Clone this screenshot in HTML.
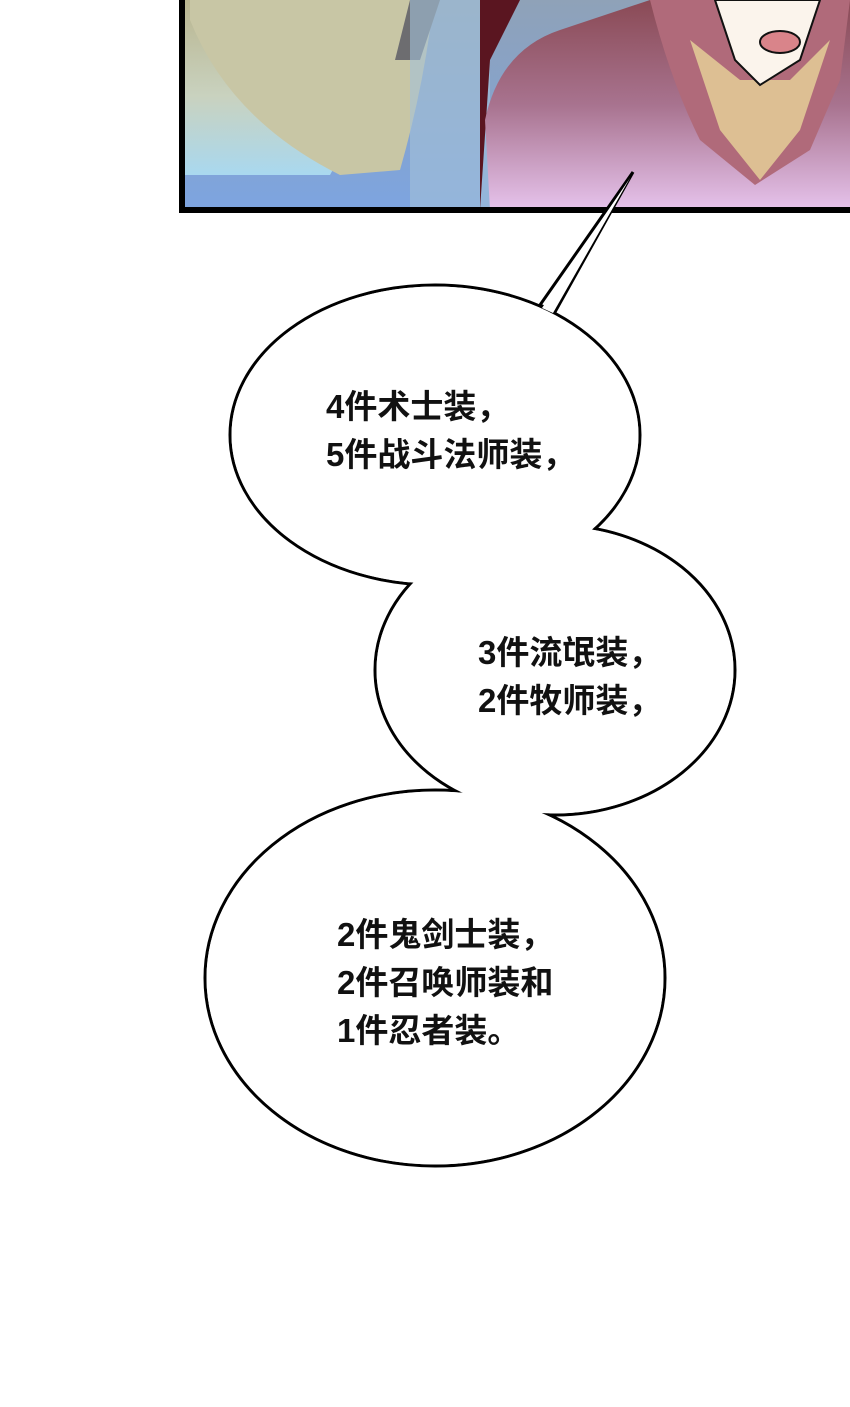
<!DOCTYPE html>
<html><head><meta charset="utf-8">
<style>
html,body{margin:0;padding:0;background:#fff;}
body{width:850px;height:1407px;position:relative;overflow:hidden;}
svg{position:absolute;left:0;top:0;}
.t{position:absolute;font-family:"Liberation Sans","Noto Sans CJK SC",sans-serif;font-size:33px;font-weight:bold;color:#111;line-height:48px;white-space:nowrap;}
</style></head><body>
<svg width="850" height="1407" viewBox="0 0 850 1407">
<defs>
<linearGradient id="gl" x1="0" y1="0" x2="0" y2="1">
<stop offset="0" stop-color="#b9b58f"/><stop offset="0.55" stop-color="#c9d2bf"/><stop offset="1" stop-color="#a9d8ef"/>
</linearGradient>
<linearGradient id="gb" x1="0" y1="0" x2="0" y2="1">
<stop offset="0" stop-color="#8fa2b8"/><stop offset="1" stop-color="#7da4e0"/>
</linearGradient>
<linearGradient id="gr" x1="0" y1="0" x2="0" y2="1">
<stop offset="0" stop-color="#8a4a55"/><stop offset="0.5" stop-color="#a8738f"/><stop offset="1" stop-color="#e6c3ec"/>
</linearGradient>
</defs>
<rect x="180" y="0" width="670" height="210" fill="url(#gb)"/>
<path d="M182 0 L420 0 L395 60 L360 120 L330 175 L182 175 Z" fill="url(#gl)"/>
<path d="M190 20 Q230 120 340 175 L400 170 Q420 100 430 30 L420 0 L190 0 Z" fill="#c8c6a5"/>
<path d="M410 0 L440 0 L420 60 L395 60 Z" fill="#6d6d70"/>
<rect x="410" y="0" width="80" height="210" fill="#a4c2d8" opacity="0.6"/>
<path d="M480 0 L520 0 L490 60 L480 210 Z" fill="#5a1520"/>
<path d="M490 210 L485 120 Q500 50 560 30 L650 0 L850 0 L850 210 Z" fill="url(#gr)"/>
<path d="M650 0 Q670 80 700 140 L755 185 L810 150 L840 80 L850 0 Z" fill="#b06a7a"/>
<path d="M690 40 L720 130 L760 180 L800 130 L830 40 L790 80 L740 80 Z" fill="#e9d59a" opacity="0.8"/>
<path d="M715 0 L735 60 L760 85 L800 60 L820 0 Z" fill="#fbf4ec" stroke="#111" stroke-width="2"/>
<ellipse cx="780" cy="42" rx="20" ry="11" fill="#d9848a" stroke="#111" stroke-width="2"/>
<path d="M182 0 L182 210 L850 210" fill="none" stroke="#000" stroke-width="6"/>
<g fill="#fff" stroke="#000" stroke-width="3">
<ellipse cx="435" cy="435" rx="205" ry="150"/>
<ellipse cx="555" cy="670" rx="180" ry="145"/>
<ellipse cx="435" cy="978" rx="230" ry="188"/>
<path d="M540 305 L633 172 L555 312 Z"/>
</g>
<g fill="#fff" stroke="none">
<ellipse cx="435" cy="435" rx="203.5" ry="148.5"/>
<ellipse cx="555" cy="670" rx="178.5" ry="143.5"/>
<ellipse cx="435" cy="978" rx="228.5" ry="186.5"/>
<path d="M542 308 L630 178 L553 313 Z"/>
</g>
</svg>
<div class="t" style="left:326px;top:383px;">4件术士装，<br>5件战斗法师装，</div>
<div class="t" style="left:478px;top:629px;">3件流氓装，<br>2件牧师装，</div>
<div class="t" style="left:337px;top:911px;">2件鬼剑士装，<br>2件召唤师装和<br>1件忍者装。</div>
</body></html>
